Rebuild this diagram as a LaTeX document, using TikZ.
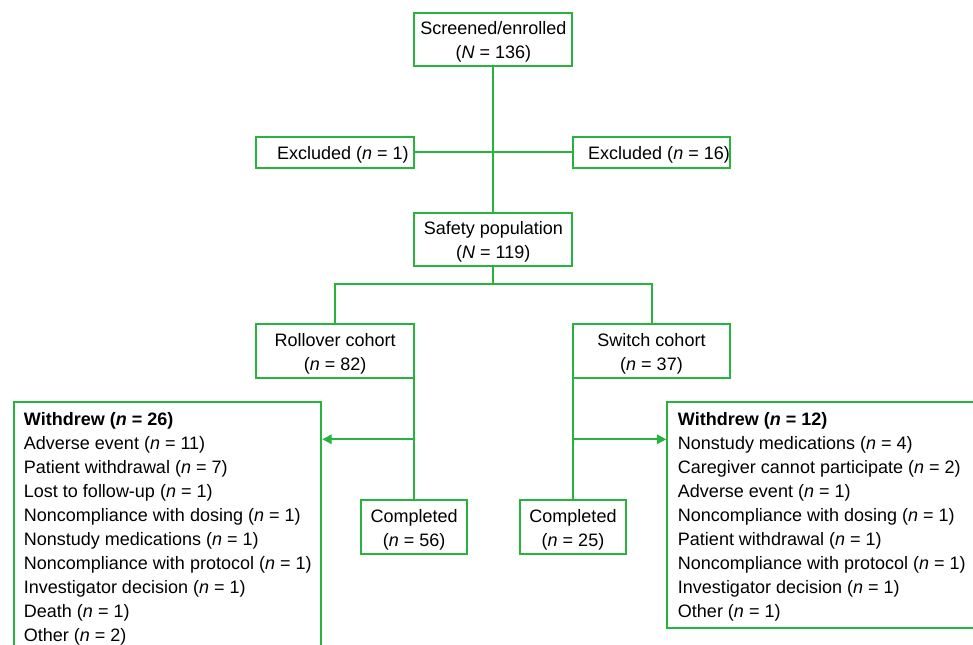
\documentclass[tikz,border=0pt]{standalone}
\usepackage{fontspec}
\setmainfont{Liberation Sans}
\usetikzlibrary{arrows.meta}
\definecolor{flowgreen}{RGB}{40,180,60}
\tikzset{
	flowbox/.style={draw=flowgreen, line width=1.5pt, align=center, inner sep=0pt,
		font=\fontsize{13.5}{18}\selectfont},
	framebox/.style={draw=flowgreen, line width=1.5pt, anchor=north west, inner sep=0pt},
	listtext/.style={anchor=north west, align=left, inner sep=0pt,
		font=\fontsize{13.5}{18}\selectfont},
	flowline/.style={draw=flowgreen, line width=1.5pt},
	flowarrow/.style={flowline, -{Triangle[length=7pt,width=7pt]}}
}
\newcommand{\nn}{\textit{n}}
\newcommand{\lift}{\rule{0pt}{14.3pt}}

\begin{document}
\begin{tikzpicture}[x=0.75pt,y=-0.75pt]
			%%%%% START %%%%%
			\clip (0,0) rectangle (973,645);
			
			\node[flowbox, minimum width=118.5pt, minimum height=39.75pt] (screen) at (493.3, 39.2) {\lift Screened/enrolled\\(\textit{N} = 136)};
			
			\node[flowbox, minimum width=118.5pt, minimum height=23.25pt] (exl) at (335.3, 152.3) {\lift\ \ \ Excluded (\nn{} = 1)};
			\node[flowbox, minimum width=118.2pt, minimum height=23.25pt] (exr) at (651.5, 152.3) {\lift\ \ \ Excluded (\nn{} = 16)};
			
			\node[flowbox, minimum width=118.5pt, minimum height=39.75pt] (safe) at (493.3, 239.2) {\lift Safety population\\(\textit{N} = 119)};
			
			\node[flowbox, minimum width=118.5pt, minimum height=40.2pt] (roll) at (335.2, 351) {\lift Rollover cohort\\(\nn{} = 82)};
			\node[flowbox, minimum width=118.2pt, minimum height=40.2pt] (swit) at (651.5, 351) {\lift Switch cohort\\(\nn{} = 37)};
			
			\node[flowbox, minimum width=79.7pt, minimum height=40.2pt] (compl) at (414.2, 527) {\lift Completed\\(\nn{} = 56)};
			\node[flowbox, minimum width=79.7pt, minimum height=40.2pt] (compr) at (573, 527) {\lift Completed\\(\nn{} = 25)};
			
			\node[framebox, minimum width=230.25pt, minimum height=225pt] (wdl) at (13.3, 401.3) {};
			\node[framebox, minimum width=229.8pt, minimum height=169pt] (wdr) at (666.3, 401.3) {};
			
			\node[listtext] (wdltext) at (23.7, 412.5) {\textbf{Withdrew (\textit{n} = 26)}\\
				Adverse event (\nn{} = 11)\\
				Patient withdrawal (\nn{} = 7)\\
				Lost to follow-up (\nn{} = 1)\\
				Noncompliance with dosing (\nn{} = 1)\\
				Nonstudy medications (\nn{} = 1)\\
				Noncompliance with protocol (\nn{} = 1)\\
				Investigator decision (\nn{} = 1)\\
				Death (\nn{} = 1)\\
				Other (\nn{} = 2)};
			\node[listtext] (wdrtext) at (677.7, 412.5) {\textbf{Withdrew (\textit{n} = 12)}\\
				Nonstudy medications (\nn{} = 4)\\
				Caregiver cannot participate (\nn{} = 2)\\
				Adverse event (\nn{} = 1)\\
				Noncompliance with dosing (\nn{} = 1)\\
				Patient withdrawal (\nn{} = 1)\\
				Noncompliance with protocol (\nn{} = 1)\\
				Investigator decision (\nn{} = 1)\\
				Other (\nn{} = 1)};
			
			% connectors
			\coordinate (split) at (493.3, 284.3);
			\coordinate (lbranch) at (414.2, 439.3);
			\coordinate (rbranch) at (573, 439.3);
			
			\draw[flowline] (screen.south) -- (safe.north);
			\draw[flowline] (exl.east) -- (exr.west);
			\draw[flowline] (safe.south) -- (split);
			\draw[flowline] (roll.north) |- (split) -| (swit.north);
			
			\draw[flowline] (roll.south -| compl.north) -- (compl.north);
			\draw[flowarrow] (lbranch) -- (lbranch -| wdl.east);
			
			\draw[flowline] (swit.south -| compr.north) -- (compr.north);
			\draw[flowarrow] (rbranch) -- (rbranch -| wdr.west);
			%%%%% END %%%%%
\end{tikzpicture}
\end{document}
